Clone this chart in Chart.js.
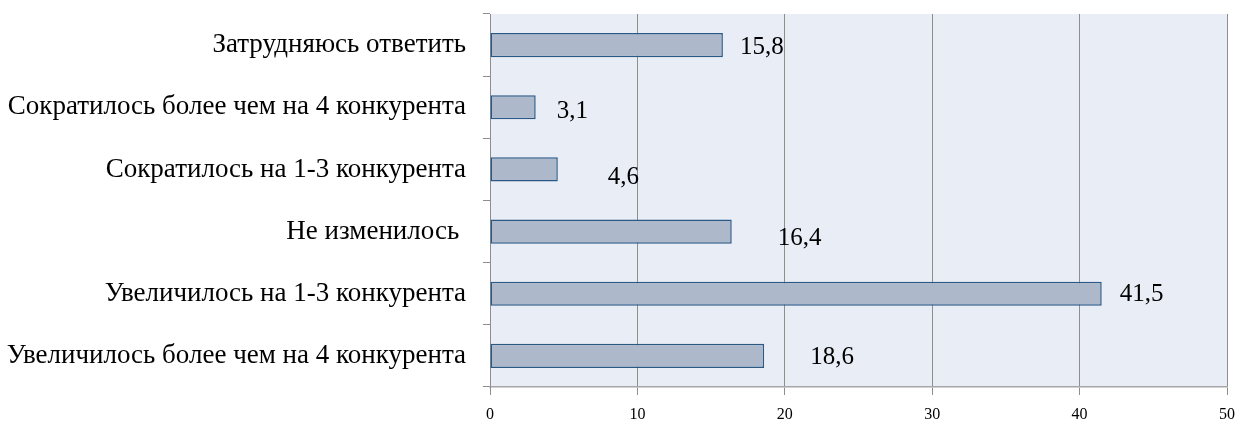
<!DOCTYPE html>
<html><head><meta charset="utf-8">
<script src="https://cdn.jsdelivr.net/npm/chart.js@4/dist/chart.umd.min.js"></script>
<style>html,body{margin:0;padding:0;background:#fff}#wrap{width:1239px;height:421px}</style>
</head><body><div id="wrap"><canvas id="c" width="1239" height="421"></canvas></div>
<script>
const categories = [
  "Затрудняюсь ответить",
  "Сократилось более чем на 4 конкурента",
  "Сократилось на 1-3 конкурента",
  "Не изменилось ",
  "Увеличилось на 1-3 конкурента",
  "Увеличилось более чем на 4 конкурента"
];
const values = [15.8, 3.1, 4.6, 16.4, 41.5, 18.6];
const valueLabels = ["15,8", "3,1", "4,6", "16,4", "41,5", "18,6"];
const xTicks = [0, 10, 20, 30, 40, 50];

const labelOffsets = [[17,2],[21,4],[50,8],[46,7],[18,1],[46,2]];

const bgPlugin = {
  id: 'bg',
  beforeDraw(chart) {
    const {ctx, chartArea: a} = chart;
    ctx.save();
    ctx.fillStyle = '#E9EDF6';
    ctx.fillRect(a.left, a.top, a.right - a.left, a.bottom - a.top);
    ctx.restore();
  }
};
const labelPlugin = {
  id: 'vlabels',
  afterDatasetsDraw(chart) {
    const {ctx} = chart;
    const meta = chart.getDatasetMeta(0);
    ctx.save();
    ctx.font = '25px "Liberation Serif"';
    ctx.fillStyle = '#000';
    ctx.textAlign = 'left';
    ctx.textBaseline = 'middle';
    meta.data.forEach((bar, i) => {
      const o = labelOffsets[i];
      ctx.fillText(valueLabels[i], bar.x + o[0], bar.y + o[1]);
    });
    ctx.restore();
  }
};

function noPad(axis) {
  axis.paddingTop = 0; axis.paddingBottom = 0; axis.paddingLeft = 0; axis.paddingRight = 0;
}

new Chart(document.getElementById('c'), {
  type: 'bar',
  data: {
    labels: categories,
    datasets: [{
      data: values,
      backgroundColor: '#ADB9CA',
      borderColor: '#2B5986',
      borderWidth: 1.5,
      borderSkipped: false,
      categoryPercentage: 1,
      barPercentage: 0.39
    }]
  },
  options: {
    indexAxis: 'y',
    responsive: false,
    animation: false,
    layout: {padding: {left: 0, right: 12, top: 14, bottom: 0}},
    plugins: {legend: {display: false}, tooltip: {enabled: false}},
    scales: {
      x: {
        min: 0, max: 50,
        afterBuildTicks(axis) { axis.ticks = xTicks.map(v => ({value: v})); },
        afterFit(axis) { axis.height = 34; noPad(axis); },
        grid: {color: '#8E8E8E', lineWidth: 1, tickLength: 8, drawOnChartArea: true},
        border: {display: true, color: '#A6A6A6', width: 1.5},
        ticks: {color: '#000', font: {family: '"Liberation Serif"', size: 16}, padding: 10, maxRotation: 0,
          callback: (v) => String(v)}
      },
      y: {
        afterFit(axis) { axis.width = 490; noPad(axis); },
        grid: {color: '#8E8E8E', drawOnChartArea: false, tickLength: 7, offset: true},
        border: {display: true, color: '#8E8E8E', width: 1},
        ticks: {color: '#000', font: {family: '"Liberation Serif"', size: 27}, padding: 17}
      }
    }
  },
  plugins: [bgPlugin, labelPlugin]
});
</script></body></html>
